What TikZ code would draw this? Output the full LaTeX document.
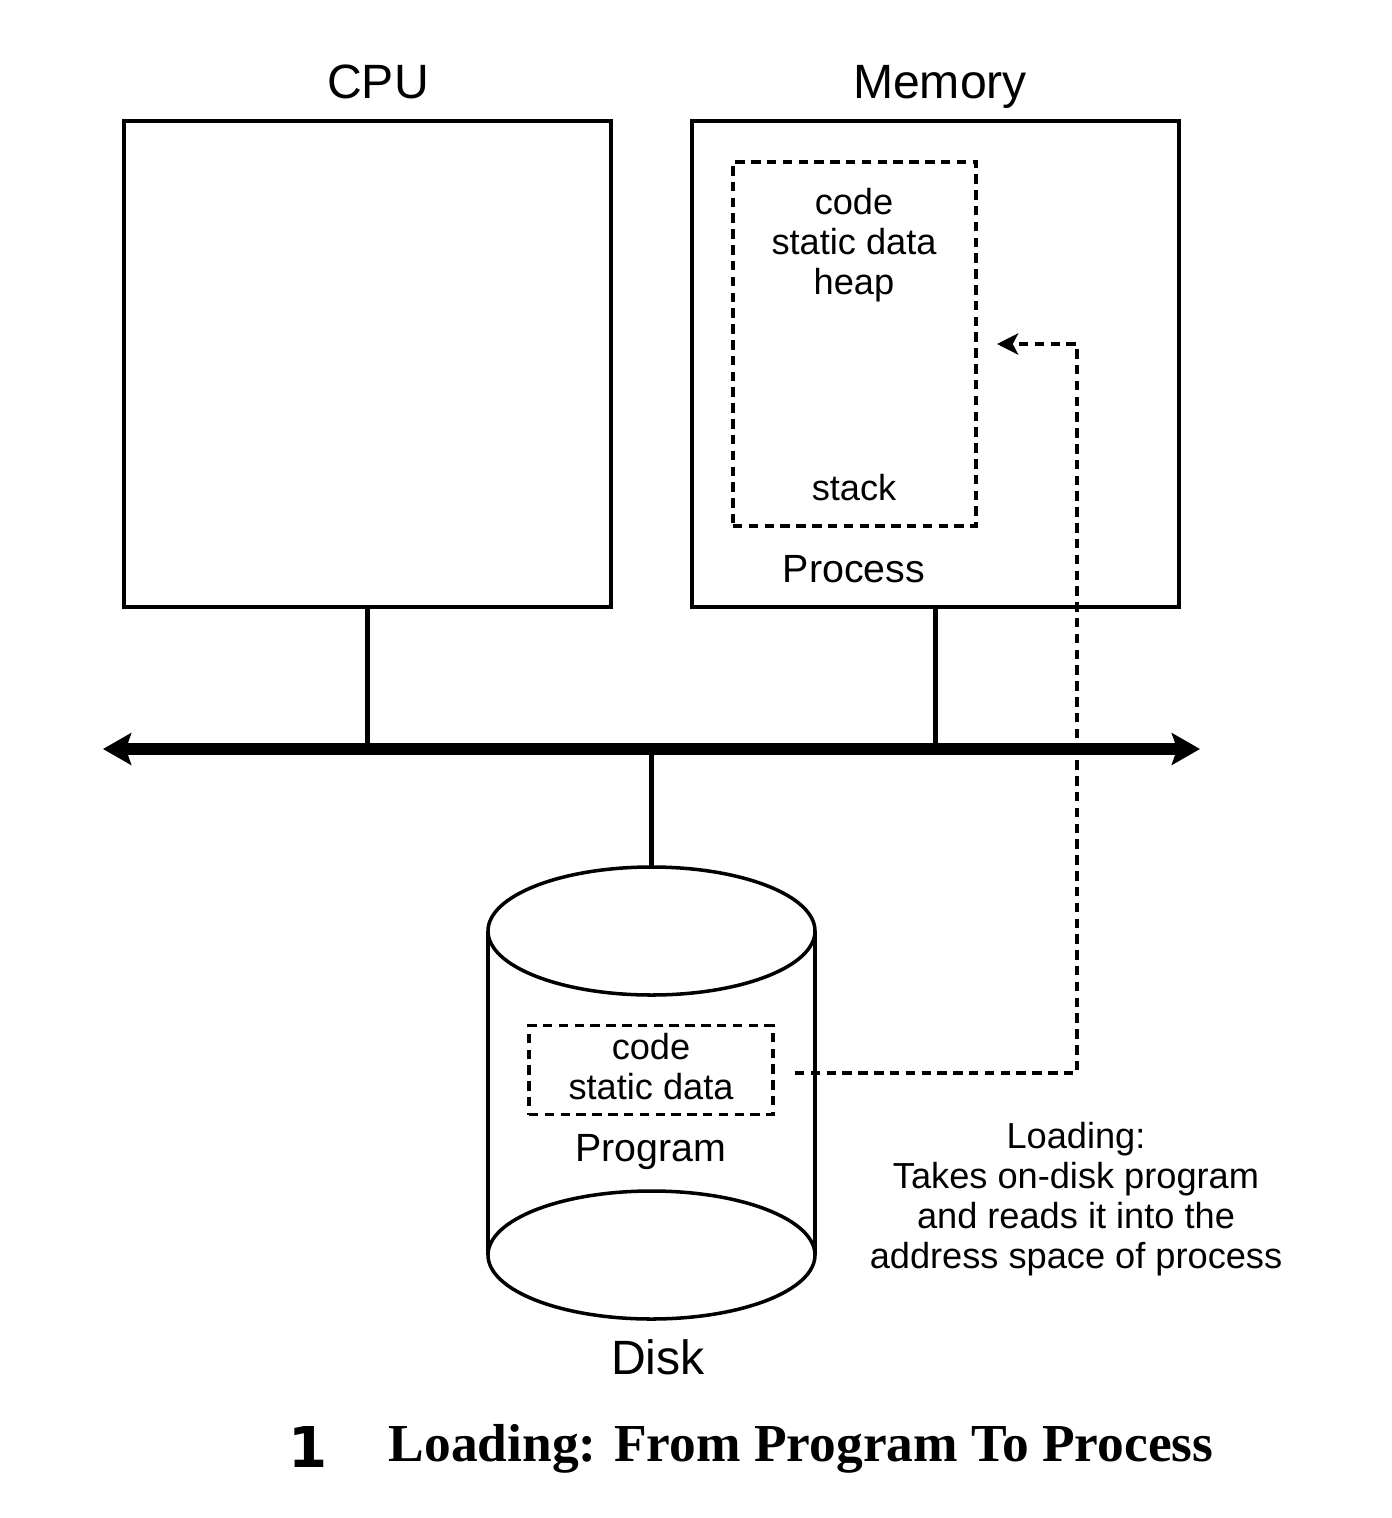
\documentclass[tikz,border=0pt]{standalone}
\usepackage{fontspec}
\setmainfont{Liberation Sans}
\newfontfamily\capfont{Liberation Serif}
\newfontfamily\numfont{DejaVu Sans}
\usetikzlibrary{calc,arrows.meta}

\begin{document}
\begin{tikzpicture}[
    box/.style={draw,line width=1pt,inner sep=0pt,outer sep=0pt},
    dbox/.style={draw,line width=1.1pt,dash pattern=on 2.7pt off 1.8pt,inner sep=0pt,outer sep=0pt},
    link/.style={line width=1.7pt},
    load/.style={line width=1.1pt,dash pattern=on 2.7pt off 1.8pt,-{Stealth[length=6pt,width=6pt,inset=1.5pt]}},
    big/.style={font=\fontsize{13.7}{16}\selectfont,anchor=base},
    mid/.style={font=\fontsize{11.2}{13}\selectfont},
    small/.style={font=\fontsize{10.3}{11.4}\selectfont,align=center}
  ]
                \useasboundingbox (0,0) rectangle (13.92,-15.18);

                % cpu and memory
                \node[box,minimum width=4.87cm,minimum height=4.86cm] at (3.675,-3.64) (cpu) {};
                \node[box,minimum width=4.87cm,minimum height=4.86cm] at (9.355,-3.64) (mem) {};
                \node[big] at (3.78,-0.98) (cpulbl) {CPU};
                \node[big] at (9.40,-0.98) (memlbl) {Memory};

                \node[dbox,minimum width=2.43cm,minimum height=3.64cm] at (8.545,-3.44) (proc) {};
                \node[small] at (8.54,-2.45) (procseg) {code\\static data\\heap};
                \node[small] at (8.54,-4.88) (stack) {stack};
                \node[mid] at (8.54,-5.69) (proclbl) {Process};

                % bus
                \coordinate (busl) at (1.03,-7.49);
                \coordinate (busr) at (12.00,-7.49);
                \draw[line width=3.4pt,{Stealth[length=8pt,width=9pt,inset=1.5pt]}-{Stealth[length=8pt,width=9pt,inset=1.5pt]}] (busl) -- (busr);
                \draw[link] (cpu.south) -- (cpu.south |- busl);
                \draw[link] (mem.south) -- (mem.south |- busl);

                % disk
                \coordinate (dtop) at (6.515,-9.31);
                \coordinate (dbot) at (6.515,-12.55);
                \draw[box] (dtop) ellipse [x radius=1.635,y radius=0.64];
                \draw[box] (dbot) ellipse [x radius=1.635,y radius=0.64];
                \draw[box] ($(dtop)+(-1.635,0)$) -- ($(dbot)+(-1.635,0)$);
                \draw[box] ($(dtop)+(1.635,0)$) -- ($(dbot)+(1.635,0)$);
                \coordinate (dlid) at ($(dtop)+(0,0.64)$);
                \draw[link] (dlid |- busl) -- (dlid);

                \node[dbox,minimum width=2.44cm,minimum height=0.89cm] at (6.51,-10.70) (prog) {};
                \node[small] at (6.51,-10.67) (progseg) {code\\static data};
                \node[mid] at (6.51,-11.52) (proglbl) {Program};
                \node[big] at (6.58,-13.74) (disklbl) {Disk};

                % loading
                \draw[load] ([xshift=.22cm,yshift=-.03cm]prog.east) -| ([xshift=1.01cm]proc.east) -- ([xshift=.21cm]proc.east);
                \node[small] at (10.76,-11.99) (note) {Loading:\\Takes on-disk program\\and reads it into the\\address space of process};

                % caption
                \node[font=\numfont\bfseries\fontsize{16}{18}\selectfont] at (3.08,-14.47) (capnum) {1};
                \node[font=\capfont\bfseries\fontsize{15.2}{18}\selectfont] at (8.01,-14.49) (captxt) {Loading: From Program To Process};
            \end{tikzpicture}
\end{document}
